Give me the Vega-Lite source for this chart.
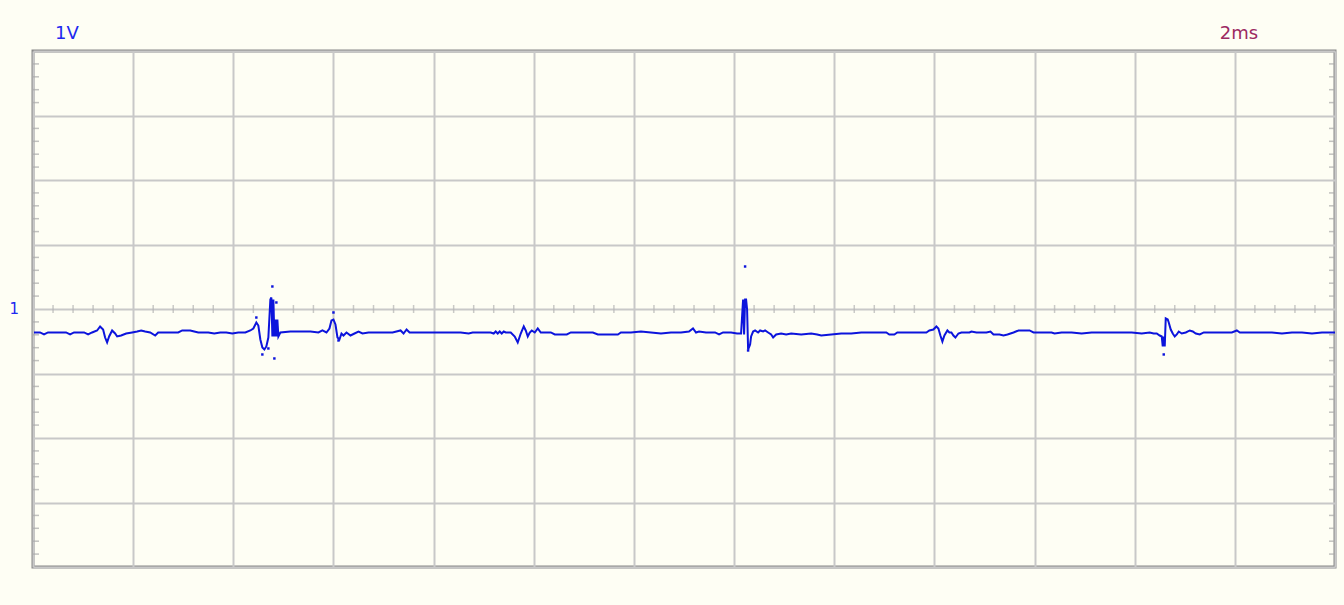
{
  "$schema": "https://vega.github.io/schema/vega-lite/v6.json",
  "width": 1302,
  "height": 516,
  "autosize": {"type": "none"},
  "padding": {"left": 33, "top": 51, "right": 9, "bottom": 38},
  "background": "#fefef4",
  "config": {
    "view": {"stroke": "#888888", "strokeWidth": 3, "fill": "#fefef4"},
    "axis": {"grid": true, "gridColor": "#c8c8c8", "gridWidth": 2, "ticks": false, "labels": false, "domain": false, "title": null}
  },
  "datasets": {
    "trace": [
      {"t":0.02,"v":-0.364},{"t":0.14,"v":-0.364},{"t":0.22,"v":-0.395},{"t":0.30,"v":-0.364},{"t":0.54,"v":-0.364},{"t":0.66,"v":-0.364},{"t":0.74,"v":-0.395},{"t":0.82,"v":-0.364},{"t":1.02,"v":-0.364},{"t":1.10,"v":-0.395},{"t":1.18,"v":-0.364},{"t":1.28,"v":-0.333},{"t":1.34,"v":-0.271},{"t":1.40,"v":-0.318},{"t":1.44,"v":-0.442},{"t":1.48,"v":-0.519},{"t":1.52,"v":-0.426},{"t":1.58,"v":-0.333},{"t":1.64,"v":-0.380},{"t":1.68,"v":-0.426},{"t":1.76,"v":-0.411},{"t":1.86,"v":-0.380},{"t":1.98,"v":-0.364},{"t":2.08,"v":-0.349},{"t":2.16,"v":-0.333},{"t":2.24,"v":-0.349},{"t":2.34,"v":-0.364},{"t":2.44,"v":-0.411},{"t":2.50,"v":-0.364},{"t":2.70,"v":-0.364},{"t":2.90,"v":-0.364},{"t":2.98,"v":-0.333},{"t":3.14,"v":-0.333},{"t":3.22,"v":-0.349},{"t":3.30,"v":-0.364},{"t":3.50,"v":-0.364},{"t":3.62,"v":-0.380},{"t":3.74,"v":-0.364},{"t":3.86,"v":-0.364},{"t":3.98,"v":-0.380},{"t":4.10,"v":-0.364},{"t":4.24,"v":-0.364},{"t":4.34,"v":-0.333},{"t":4.40,"v":-0.302},{"t":4.46,"v":-0.209},{"t":4.50,"v":-0.256},{"t":4.54,"v":-0.473},{"t":4.58,"v":-0.597},{"t":4.62,"v":-0.628},{"t":4.66,"v":-0.581},{"t":4.70,"v":-0.442},{"t":4.74,"v":0.147},{"t":4.76,"v":0.178},{"t":4.78,"v":-0.426},{"t":4.80,"v":0.147},{"t":4.82,"v":-0.426},{"t":4.84,"v":-0.163},{"t":4.86,"v":-0.426},{"t":4.88,"v":-0.163},{"t":4.90,"v":-0.426},{"t":4.94,"v":-0.364},{"t":5.14,"v":-0.349},{"t":5.34,"v":-0.349},{"t":5.54,"v":-0.349},{"t":5.70,"v":-0.364},{"t":5.78,"v":-0.333},{"t":5.86,"v":-0.364},{"t":5.92,"v":-0.302},{"t":5.96,"v":-0.178},{"t":6.00,"v":-0.163},{"t":6.04,"v":-0.240},{"t":6.08,"v":-0.442},{"t":6.12,"v":-0.473},{"t":6.16,"v":-0.380},{"t":6.20,"v":-0.411},{"t":6.26,"v":-0.364},{"t":6.34,"v":-0.411},{"t":6.42,"v":-0.380},{"t":6.50,"v":-0.349},{"t":6.58,"v":-0.380},{"t":6.70,"v":-0.364},{"t":6.94,"v":-0.364},{"t":7.18,"v":-0.364},{"t":7.34,"v":-0.333},{"t":7.40,"v":-0.380},{"t":7.46,"v":-0.318},{"t":7.52,"v":-0.364},{"t":7.62,"v":-0.364},{"t":7.74,"v":-0.364},{"t":7.94,"v":-0.364},{"t":8.14,"v":-0.364},{"t":8.26,"v":-0.364},{"t":8.54,"v":-0.364},{"t":8.70,"v":-0.380},{"t":8.78,"v":-0.364},{"t":8.94,"v":-0.364},{"t":9.14,"v":-0.364},{"t":9.20,"v":-0.380},{"t":9.24,"v":-0.349},{"t":9.28,"v":-0.380},{"t":9.32,"v":-0.349},{"t":9.36,"v":-0.380},{"t":9.40,"v":-0.349},{"t":9.44,"v":-0.364},{"t":9.54,"v":-0.364},{"t":9.62,"v":-0.426},{"t":9.68,"v":-0.519},{"t":9.74,"v":-0.380},{"t":9.80,"v":-0.271},{"t":9.84,"v":-0.333},{"t":9.88,"v":-0.426},{"t":9.92,"v":-0.364},{"t":9.96,"v":-0.333},{"t":10.02,"v":-0.364},{"t":10.08,"v":-0.302},{"t":10.14,"v":-0.364},{"t":10.34,"v":-0.364},{"t":10.42,"v":-0.395},{"t":10.66,"v":-0.395},{"t":10.74,"v":-0.364},{"t":11.18,"v":-0.364},{"t":11.28,"v":-0.395},{"t":11.68,"v":-0.395},{"t":11.74,"v":-0.364},{"t":11.94,"v":-0.364},{"t":12.14,"v":-0.349},{"t":12.34,"v":-0.364},{"t":12.54,"v":-0.380},{"t":12.74,"v":-0.364},{"t":12.94,"v":-0.364},{"t":13.10,"v":-0.349},{"t":13.18,"v":-0.302},{"t":13.24,"v":-0.364},{"t":13.30,"v":-0.349},{"t":13.44,"v":-0.364},{"t":13.62,"v":-0.364},{"t":13.70,"v":-0.395},{"t":13.78,"v":-0.364},{"t":13.94,"v":-0.364},{"t":14.06,"v":-0.380},{"t":14.14,"v":-0.380},{"t":14.18,"v":0.147},{"t":14.20,"v":-0.395},{"t":14.22,"v":0.147},{"t":14.24,"v":0.147},{"t":14.26,"v":-0.008},{"t":14.28,"v":-0.628},{"t":14.32,"v":-0.550},{"t":14.34,"v":-0.426},{"t":14.38,"v":-0.349},{"t":14.42,"v":-0.333},{"t":14.48,"v":-0.364},{"t":14.52,"v":-0.333},{"t":14.58,"v":-0.349},{"t":14.62,"v":-0.333},{"t":14.68,"v":-0.364},{"t":14.74,"v":-0.395},{"t":14.78,"v":-0.442},{"t":14.84,"v":-0.395},{"t":14.94,"v":-0.380},{"t":15.04,"v":-0.395},{"t":15.14,"v":-0.380},{"t":15.34,"v":-0.395},{"t":15.54,"v":-0.380},{"t":15.66,"v":-0.395},{"t":15.74,"v":-0.411},{"t":15.94,"v":-0.395},{"t":16.14,"v":-0.380},{"t":16.34,"v":-0.380},{"t":16.54,"v":-0.364},{"t":17.04,"v":-0.364},{"t":17.10,"v":-0.395},{"t":17.20,"v":-0.395},{"t":17.26,"v":-0.364},{"t":17.84,"v":-0.364},{"t":17.90,"v":-0.333},{"t":17.98,"v":-0.318},{"t":18.04,"v":-0.271},{"t":18.08,"v":-0.302},{"t":18.12,"v":-0.411},{"t":18.16,"v":-0.504},{"t":18.20,"v":-0.411},{"t":18.26,"v":-0.333},{"t":18.30,"v":-0.364},{"t":18.34,"v":-0.364},{"t":18.38,"v":-0.411},{"t":18.42,"v":-0.442},{"t":18.48,"v":-0.380},{"t":18.54,"v":-0.364},{"t":18.70,"v":-0.364},{"t":18.74,"v":-0.349},{"t":18.84,"v":-0.364},{"t":19.04,"v":-0.364},{"t":19.12,"v":-0.349},{"t":19.18,"v":-0.395},{"t":19.30,"v":-0.395},{"t":19.38,"v":-0.411},{"t":19.46,"v":-0.395},{"t":19.58,"v":-0.364},{"t":19.68,"v":-0.333},{"t":19.90,"v":-0.333},{"t":19.98,"v":-0.364},{"t":20.14,"v":-0.364},{"t":20.34,"v":-0.364},{"t":20.40,"v":-0.380},{"t":20.54,"v":-0.364},{"t":20.74,"v":-0.364},{"t":20.94,"v":-0.380},{"t":21.14,"v":-0.364},{"t":21.34,"v":-0.364},{"t":21.54,"v":-0.364},{"t":21.74,"v":-0.364},{"t":21.94,"v":-0.364},{"t":22.14,"v":-0.380},{"t":22.30,"v":-0.364},{"t":22.38,"v":-0.380},{"t":22.44,"v":-0.380},{"t":22.50,"v":-0.411},{"t":22.54,"v":-0.426},{"t":22.56,"v":-0.581},{"t":22.58,"v":-0.426},{"t":22.60,"v":-0.581},{"t":22.62,"v":-0.147},{"t":22.66,"v":-0.163},{"t":22.68,"v":-0.209},{"t":22.72,"v":-0.318},{"t":22.76,"v":-0.380},{"t":22.80,"v":-0.426},{"t":22.84,"v":-0.395},{"t":22.88,"v":-0.349},{"t":22.94,"v":-0.380},{"t":23.02,"v":-0.364},{"t":23.10,"v":-0.333},{"t":23.16,"v":-0.349},{"t":23.22,"v":-0.380},{"t":23.30,"v":-0.395},{"t":23.38,"v":-0.364},{"t":23.54,"v":-0.364},{"t":23.74,"v":-0.364},{"t":23.94,"v":-0.364},{"t":24.04,"v":-0.333},{"t":24.10,"v":-0.364},{"t":24.24,"v":-0.364},{"t":24.44,"v":-0.364},{"t":24.74,"v":-0.364},{"t":24.94,"v":-0.380},{"t":25.14,"v":-0.364},{"t":25.34,"v":-0.364},{"t":25.54,"v":-0.380},{"t":25.74,"v":-0.364},{"t":26.00,"v":-0.364}
    ],
    "dots": [
      {"t":4.46,"v":-0.132},{"t":4.58,"v":-0.705},{"t":4.70,"v":-0.612},{"t":4.78,"v":0.349},{"t":4.86,"v":0.101},{"t":4.82,"v":-0.767},{"t":6.00,"v":-0.054},{"t":6.10,"v":-0.488},{"t":14.22,"v":0.659},{"t":14.28,"v":-0.643},{"t":22.58,"v":-0.705}
    ],
    "hticks": [
      {"t":0.4},{"t":0.8},{"t":1.2},{"t":1.6},{"t":2.4},{"t":2.8},{"t":3.2},{"t":3.6},{"t":4.4},{"t":4.8},{"t":5.2},{"t":5.6},{"t":6.4},{"t":6.8},{"t":7.2},{"t":7.6},{"t":8.4},{"t":8.8},{"t":9.2},{"t":9.6},{"t":10.4},{"t":10.8},{"t":11.2},{"t":11.6},{"t":12.4},{"t":12.8},{"t":13.2},{"t":13.6},{"t":14.4},{"t":14.8},{"t":15.2},{"t":15.6},{"t":16.4},{"t":16.8},{"t":17.2},{"t":17.6},{"t":18.4},{"t":18.8},{"t":19.2},{"t":19.6},{"t":20.4},{"t":20.8},{"t":21.2},{"t":21.6},{"t":22.4},{"t":22.8},{"t":23.2},{"t":23.6},{"t":24.4},{"t":24.8},{"t":25.2},{"t":25.6}
    ],
    "vticks": [
      {"v":-3.8},{"v":-3.6},{"v":-3.4},{"v":-3.2},{"v":-2.8},{"v":-2.6},{"v":-2.4},{"v":-2.2},{"v":-1.8},{"v":-1.6},{"v":-1.4},{"v":-1.2},{"v":-0.8},{"v":-0.6},{"v":-0.4},{"v":-0.2},{"v":0.2},{"v":0.4},{"v":0.6},{"v":0.8},{"v":1.2},{"v":1.4},{"v":1.6},{"v":1.8},{"v":2.2},{"v":2.4},{"v":2.6},{"v":2.8},{"v":3.2},{"v":3.4},{"v":3.6},{"v":3.8}
    ]
  },
  "layer": [
    {
      "data": {"name": "hticks"},
      "mark": {"type": "tick", "orient": "vertical", "size": 8, "thickness": 1.5, "color": "#b4b4b4"},
      "encoding": {
        "x": {"field": "t", "type": "quantitative", "scale": {"domain": [0, 26], "nice": false, "zero": false}, "axis": {"values": [0,2,4,6,8,10,12,14,16,18,20,22,24,26]}},
        "y": {"datum": 0, "type": "quantitative", "scale": {"domain": [-4, 4], "nice": false}, "axis": {"values": [-4,-3,-2,-1,0,1,2,3,4]}}
      }
    },
    {
      "data": {"name": "vticks"},
      "mark": {"type": "tick", "orient": "horizontal", "size": 12, "thickness": 1.5, "color": "#a8a8a8", "clip": true},
      "encoding": {
        "x": {"datum": 0, "type": "quantitative"},
        "y": {"field": "v", "type": "quantitative"}
      }
    },
    {
      "data": {"name": "vticks"},
      "mark": {"type": "tick", "orient": "horizontal", "size": 12, "thickness": 1.5, "color": "#a8a8a8", "clip": true},
      "encoding": {
        "x": {"datum": 26, "type": "quantitative"},
        "y": {"field": "v", "type": "quantitative"}
      }
    },
    {
      "data": {"name": "trace"},
      "mark": {"type": "line", "color": "#0c14dc", "strokeWidth": 2, "clip": true},
      "encoding": {
        "x": {"field": "t", "type": "quantitative"},
        "y": {"field": "v", "type": "quantitative"},
        "order": {"value": null}
      }
    },
    {
      "data": {"name": "dots"},
      "mark": {"type": "point", "shape": "square", "filled": true, "size": 6, "opacity": 1, "color": "#0c14dc"},
      "encoding": {
        "x": {"field": "t", "type": "quantitative"},
        "y": {"field": "v", "type": "quantitative"}
      }
    },
    {
      "data": {"values": [{"label": "1V"}]},
      "mark": {"type": "text", "align": "left", "baseline": "alphabetic", "dy": -12, "fontSize": 18, "font": "DejaVu Sans", "color": "#2028f0", "clip": false},
      "encoding": {
        "x": {"datum": 0.44, "type": "quantitative"},
        "y": {"datum": 4, "type": "quantitative"},
        "text": {"field": "label"}
      }
    },
    {
      "data": {"values": [{"label": "2ms"}]},
      "mark": {"type": "text", "align": "left", "baseline": "alphabetic", "dy": -12, "fontSize": 18, "font": "DejaVu Sans", "color": "#9c2a62", "clip": false},
      "encoding": {
        "x": {"datum": 23.7, "type": "quantitative"},
        "y": {"datum": 4, "type": "quantitative"},
        "text": {"field": "label"}
      }
    },
    {
      "data": {"values": [{"label": "1"}]},
      "mark": {"type": "text", "align": "right", "baseline": "middle", "dx": -14, "fontSize": 15, "font": "DejaVu Sans", "color": "#2028f0", "clip": false},
      "encoding": {
        "x": {"datum": 0, "type": "quantitative"},
        "y": {"datum": 0, "type": "quantitative"},
        "text": {"field": "label"}
      }
    }
  ]
}
